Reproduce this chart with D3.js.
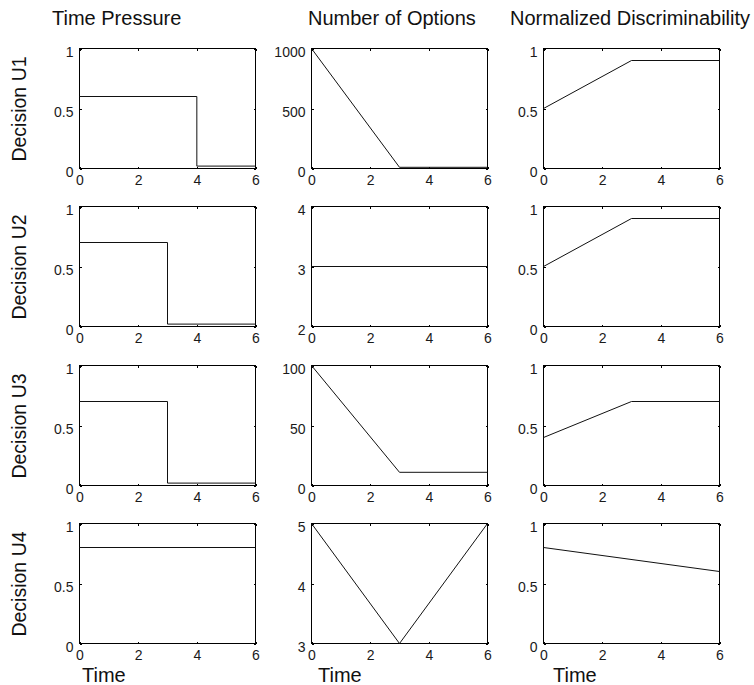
<!DOCTYPE html>
<html>
<head>
<meta charset="utf-8">
<script src="https://cdn.jsdelivr.net/npm/d3@7"></script>
<style>
  body { margin: 0; background: #fff; }
  text { font-family: "Liberation Sans", Arial, sans-serif; }
</style>
</head>
<body>
<script>
// chart data
const rowLabels = ["Decision U1", "Decision U2", "Decision U3", "Decision U4"];
const colTitles = ["Time Pressure", "Number of Options", "Normalized Discriminability"];
const xTicks = [0, 2, 4, 6];

// time pressure (step functions), [time, value]
const pressureU1 = [[0, 0.6], [4, 0.6], [4, 0.02], [6, 0.02]];
const pressureU2 = [[0, 0.7], [3, 0.7], [3, 0.02], [6, 0.02]];
const pressureU3 = [[0, 0.7], [3, 0.7], [3, 0.02], [6, 0.02]];
const pressureU4 = [[0, 0.8], [6, 0.8]];

// number of options
const optionsU1 = [[0, 1000], [3, 10], [6, 10]];
const optionsU2 = [[0, 3], [6, 3]];
const optionsU3 = [[0, 100], [3, 11], [6, 11]];
const optionsU4 = [[0, 5], [3, 3], [6, 5]];

// normalized discriminability
const discrimU1 = [[0, 0.5], [3, 0.9], [6, 0.9]];
const discrimU2 = [[0, 0.5], [3, 0.9], [6, 0.9]];
const discrimU3 = [[0, 0.4], [3, 0.7], [6, 0.7]];
const discrimU4 = [[0, 0.8], [6, 0.6]];

// y domains and ticks per column / row
const unitDomain = [0, 1];
const unitTicks = [0, 0.5, 1];
const optionsDomains = [[0, 1000], [2, 4], [0, 100], [3, 5]];
const optionsTicks = [[0, 500, 1000], [2, 3, 4], [0, 50, 100], [3, 4, 5]];

const series = [
    [pressureU1, optionsU1, discrimU1],
    [pressureU2, optionsU2, discrimU2],
    [pressureU3, optionsU3, discrimU3],
    [pressureU4, optionsU4, discrimU4]
];

// layout
const W = 754, H = 685;
const colX = [79, 311, 543];
const rowY = [48, 206, 365, 523];
const pw = 176, ph = 120;
const titleX = [52, 308, 510];
const timeX = [82, 318, 553];

const svg = d3.select("body").append("svg")
    .attr("width", W)
    .attr("height", H);

svg.append("rect").attr("width", W).attr("height", H).attr("fill", "#fff");

const x = d3.scaleLinear().domain([0, 6]).range([0, pw]);

for (let r = 0; r < rowLabels.length; r++) {
    for (let c = 0; c < colTitles.length; c++) {
        let domain = c == 1 ? optionsDomains[r] : unitDomain;
        let ticks = c == 1 ? optionsTicks[r] : unitTicks;
        let y = d3.scaleLinear().domain(domain).range([ph, 0]);

        let g = svg.append("g")
            .attr("transform", `translate(${colX[c] + 0.5},${rowY[r] + 0.5})`);

        // inward ticks on all four sides
        g.append("g").attr("transform", `translate(0,${ph})`)
            .call(d3.axisBottom(x).tickValues(xTicks).tickSizeInner(-2).tickSizeOuter(0).tickPadding(7).tickFormat(d3.format("~g")));
        g.append("g")
            .call(d3.axisTop(x).tickValues(xTicks).tickSizeInner(-2).tickSizeOuter(0).tickFormat(""));
        let yAxis = g.append("g")
            .call(d3.axisLeft(y).tickValues(ticks).tickSizeInner(-2).tickSizeOuter(0).tickPadding(6).tickFormat(d3.format("~g")));
        g.append("g").attr("transform", `translate(${pw},0)`)
            .call(d3.axisRight(y).tickValues(ticks).tickSizeInner(-2).tickSizeOuter(0).tickFormat(""));

        g.selectAll(".domain").remove();
        g.selectAll(".tick line").attr("stroke", "#000").attr("shape-rendering", "crispEdges");
        g.selectAll(".tick text")
            .attr("fill", "#1a1a1a")
            .style("font-size", "14px")
            .style("font-family", '"Liberation Sans", Arial, sans-serif');
        yAxis.selectAll(".tick text").attr("dy", "0.55em");

        // box
        g.append("rect")
            .attr("width", pw).attr("height", ph)
            .attr("fill", "none")
            .attr("stroke", "#000")
            .attr("shape-rendering", "crispEdges");

        // data line
        g.append("path")
            .datum(series[r][c])
            .attr("fill", "none")
            .attr("stroke", "#111")
            .attr("stroke-width", 1)
            .attr("d", d3.line().x(d => x(d[0])).y(d => y(d[1])));
    }

    // row label
    svg.append("text")
        .attr("transform", `translate(26,${rowY[r] + ph / 2 + 1}) rotate(-90)`)
        .attr("text-anchor", "middle")
        .style("font-size", "19.5px")
        .attr("fill", "#111")
        .text(rowLabels[r]);
}

// column titles and time labels
colTitles.forEach((t, c) => {
    svg.append("text")
        .attr("x", titleX[c]).attr("y", 25)
        .style("font-size", "20px")
        .attr("fill", "#111")
        .text(t);
    svg.append("text")
        .attr("x", timeX[c]).attr("y", 682)
        .style("font-size", "20px")
        .attr("fill", "#111")
        .text("Time");
});
</script>
</body>
</html>
